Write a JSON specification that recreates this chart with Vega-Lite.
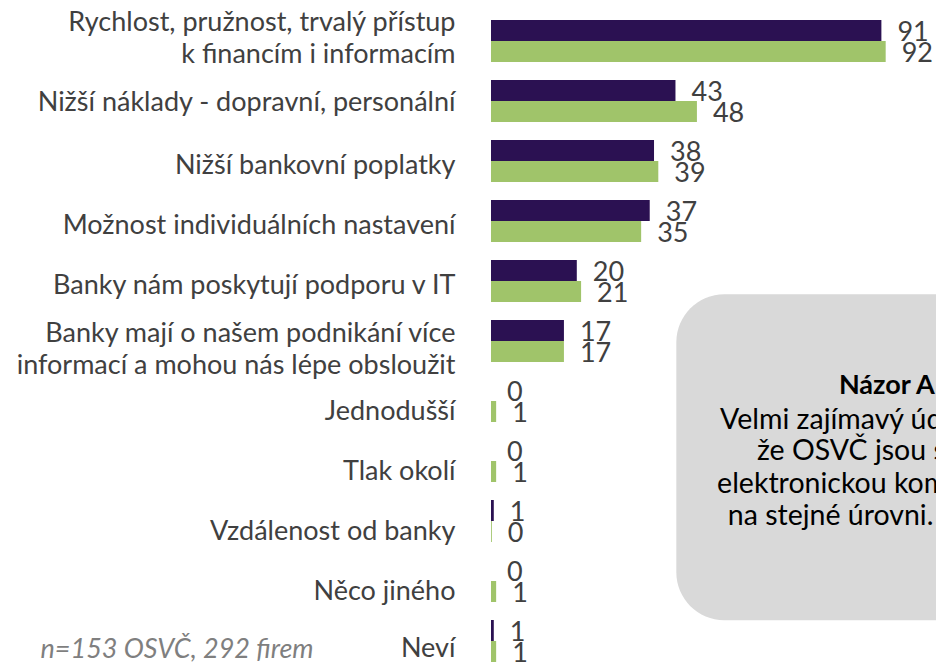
{
  "$schema": "https://vega.github.io/schema/vega-lite/v6.json",
  "width": 429,
  "height": 642,
  "autosize": {"type": "none"},
  "padding": {"left": 491, "top": 20, "right": 16, "bottom": 2},
  "background": "white",
  "config": {"view": {"stroke": null}, "font": "Lato"},
  "datasets": {
    "bars": [
      {"cat": "Rychlost, pružnost, trvalý přístup\nk financím i informacím", "series": "OSVČ", "value": 91, "label": "91"},
      {"cat": "Rychlost, pružnost, trvalý přístup\nk financím i informacím", "series": "firmy", "value": 92, "label": "92"},
      {"cat": "Nižší náklady - dopravní, personální", "series": "OSVČ", "value": 43, "label": "43"},
      {"cat": "Nižší náklady - dopravní, personální", "series": "firmy", "value": 48, "label": "48"},
      {"cat": "Nižší bankovní poplatky", "series": "OSVČ", "value": 38, "label": "38"},
      {"cat": "Nižší bankovní poplatky", "series": "firmy", "value": 39, "label": "39"},
      {"cat": "Možnost individuálních nastavení", "series": "OSVČ", "value": 37, "label": "37"},
      {"cat": "Možnost individuálních nastavení", "series": "firmy", "value": 35, "label": "35"},
      {"cat": "Banky nám poskytují podporu v IT", "series": "OSVČ", "value": 20, "label": "20"},
      {"cat": "Banky nám poskytují podporu v IT", "series": "firmy", "value": 21, "label": "21"},
      {"cat": "Banky mají o našem podnikání více\ninformací a mohou nás lépe obsloužit", "series": "OSVČ", "value": 17, "label": "17"},
      {"cat": "Banky mají o našem podnikání více\ninformací a mohou nás lépe obsloužit", "series": "firmy", "value": 17, "label": "17"},
      {"cat": "Jednodušší", "series": "OSVČ", "value": 0, "label": "0"},
      {"cat": "Jednodušší", "series": "firmy", "value": 1.2, "label": "1"},
      {"cat": "Tlak okolí", "series": "OSVČ", "value": 0, "label": "0"},
      {"cat": "Tlak okolí", "series": "firmy", "value": 1.2, "label": "1"},
      {"cat": "Vzdálenost od banky", "series": "OSVČ", "value": 0.65, "label": "1"},
      {"cat": "Vzdálenost od banky", "series": "firmy", "value": 0.2, "label": "0"},
      {"cat": "Něco jiného", "series": "OSVČ", "value": 0, "label": "0"},
      {"cat": "Něco jiného", "series": "firmy", "value": 1.2, "label": "1"},
      {"cat": "Neví", "series": "OSVČ", "value": 0.65, "label": "1"},
      {"cat": "Neví", "series": "firmy", "value": 1.2, "label": "1"}
    ],
    "notes": [
      {"kind": "box", "x": 43.2, "x2": 118, "y": 42.7, "y2": 93.5, "text": ""},
      {"kind": "title", "x": 81.1, "y": 57.0, "text": "Názor AMSP ČR"},
      {"kind": "line", "x": 53.4, "y": 62.3, "text": "Velmi zajímavý údaj je,"},
      {"kind": "line", "x": 62.0, "y": 67.1, "text": "že OSVČ jsou s firmami"},
      {"kind": "line", "x": 52.7, "y": 72.2, "text": "elektronickou komunikací"},
      {"kind": "line", "x": 55.2, "y": 77.2, "text": "na stejné úrovni."},
      {"kind": "foot", "x": -105, "y": 98.1, "text": "n=153 OSVČ, 292 firem"}
    ]
  },
  "layer": [
    {
      "data": {"name": "notes"},
      "transform": [{"filter": "datum.kind === 'box'"}],
      "mark": {"type": "rect", "cornerRadius": 48, "color": "#D9D9D9"},
      "encoding": {
        "x": {"field": "x", "type": "quantitative", "scale": {"domain": [0, 100]}, "axis": null},
        "x2": {"field": "x2"},
        "y": {"field": "y", "type": "quantitative", "scale": {"domain": [100, 0]}, "axis": null},
        "y2": {"field": "y2"}
      }
    },
    {
      "data": {"name": "notes"},
      "transform": [{"filter": "datum.kind === 'title'"}],
      "mark": {"type": "text", "align": "left", "baseline": "middle", "fontSize": 27, "fontWeight": "bold", "color": "#000000"},
      "encoding": {
        "x": {"field": "x", "type": "quantitative", "scale": {"domain": [0, 100]}, "axis": null},
        "y": {"field": "y", "type": "quantitative", "scale": {"domain": [100, 0]}, "axis": null},
        "text": {"field": "text"}
      }
    },
    {
      "data": {"name": "notes"},
      "transform": [{"filter": "datum.kind === 'line'"}],
      "mark": {"type": "text", "align": "left", "baseline": "middle", "fontSize": 28.5, "color": "#000000"},
      "encoding": {
        "x": {"field": "x", "type": "quantitative", "scale": {"domain": [0, 100]}, "axis": null},
        "y": {"field": "y", "type": "quantitative", "scale": {"domain": [100, 0]}, "axis": null},
        "text": {"field": "text"}
      }
    },
    {
      "data": {"name": "notes"},
      "transform": [{"filter": "datum.kind === 'foot'"}],
      "mark": {"type": "text", "align": "left", "baseline": "middle", "fontSize": 27, "fontStyle": "italic", "color": "#7F7F7F"},
      "encoding": {
        "x": {"field": "x", "type": "quantitative", "scale": {"domain": [0, 100]}, "axis": null},
        "y": {"field": "y", "type": "quantitative", "scale": {"domain": [100, 0]}, "axis": null},
        "text": {"field": "text"}
      }
    },
    {
      "data": {"name": "bars"},
      "encoding": {
        "y": {
          "field": "cat", "type": "nominal", "sort": null,
          "scale": {"paddingInner": 0.3, "paddingOuter": 0},
          "axis": {
            "title": null, "domain": false, "ticks": false,
            "labelExpr": "split(datum.label, '\\n')",
            "labelFont": "Lato", "labelFontSize": 27, "labelColor": "#404040",
            "labelPadding": 36, "labelLimit": 0, "labelLineHeight": 32,
            "labelAlign": "right", "labelBaseline": "middle",
            "labelOffset": {
              "condition": [
                {"test": "indexof(datum.value, 'Rychlost') >= 0", "value": -18},
                {"test": "indexof(datum.value, 'Banky mají') >= 0", "value": -7},
                {"test": "indexof(datum.value, 'náklady') >= 0", "value": 2},
                {"test": "datum.value === 'Neví'", "value": 8},
                {"test": "indexof(['Jednodušší', 'Tlak okolí', 'Vzdálenost od banky', 'Něco jiného'], datum.value) >= 0", "value": 11}
              ],
              "value": 5
            }
          }
        },
        "yOffset": {"field": "series", "type": "nominal", "sort": ["OSVČ", "firmy"], "scale": {"paddingInner": 0, "paddingOuter": 0}},
        "x": {"field": "value", "type": "quantitative", "scale": {"domain": [0, 100]}, "axis": null}
      },
      "layer": [
        {
          "mark": {"type": "bar"},
          "encoding": {
            "color": {"field": "series", "type": "nominal", "scale": {"domain": ["OSVČ", "firmy"], "range": ["#2B1152", "#A0C46A"]}, "legend": null}
          }
        },
        {
          "mark": {"type": "text", "align": "left", "baseline": "middle", "dx": 16, "dy": 2, "fontSize": 27, "color": "#404040"},
          "encoding": {"text": {"field": "label"}}
        }
      ]
    }
  ],
  "resolve": {"scale": {"y": "independent"}, "axis": {"y": "independent"}}
}
